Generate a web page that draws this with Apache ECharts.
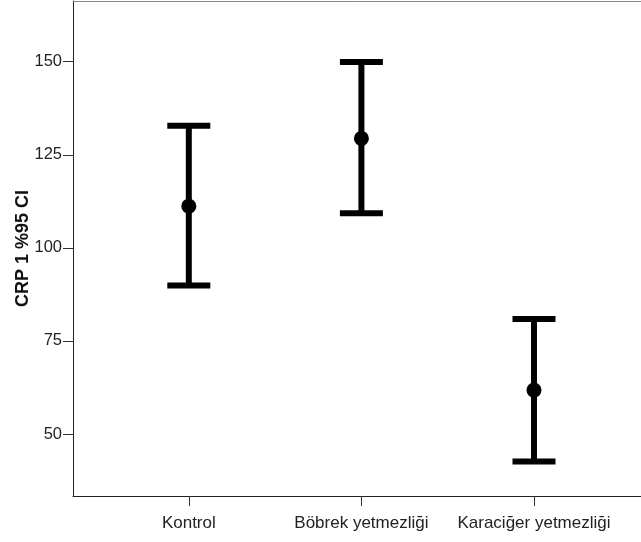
<!DOCTYPE html>
<html>
<head>
<meta charset="utf-8">
<script src="https://cdn.jsdelivr.net/npm/echarts@6/dist/echarts.min.js"></script>
<style>html,body{margin:0;padding:0;background:#fff}#c{width:641px;height:542px}</style>
</head>
<body>
<div id="c"></div>
<script>
const categories = ['Kontrol', 'Böbrek yetmezliği', 'Karaciğer yetmezliği'];
const means = [111.2, 129.4, 61.8];
const lower = [89.9, 109.3, 42.6];
const upper = [132.8, 149.9, 80.9];
const yTicks = [50, 75, 100, 125, 150];
const xTicks = [0, 1, 2];

const chart = echarts.init(document.getElementById('c'), null, {renderer: 'canvas'});
const data = categories.map((c, i) => [i, means[i], lower[i], upper[i]]);
const font = '"Liberation Sans", Arial, sans-serif';

chart.setOption({
  animation: false,
  backgroundColor: '#fff',
  grid: {left: 73, right: 0, top: 1, bottom: 46, containLabel: false, outerBoundsMode: 'none'},
  xAxis: [{
    type: 'value', min: -0.671, max: 2.62,
    splitLine: {show: false},
    axisLine: {show: true, onZero: false, lineStyle: {color: '#222', width: 1}},
    axisTick: {show: true, customValues: xTicks, length: 10, lineStyle: {color: '#333'}},
    axisLabel: {customValues: xTicks, formatter: v => categories[Math.round(v)] || '', color: '#222', fontSize: 17, fontFamily: font, margin: 19}
  }, {
    type: 'value', min: -0.671, max: 2.62, position: 'top',
    splitLine: {show: false},
    axisLine: {show: true, onZero: false, lineStyle: {color: '#8a8a8a', width: 1}},
    axisTick: {show: false}, axisLabel: {show: false}
  }],
  yAxis: {
    type: 'value', min: 33.35, max: 166.3,
    name: 'CRP 1 %95 CI', nameLocation: 'middle', nameGap: 41, nameMoveOverlap: false,
    nameTextStyle: {fontWeight: 'bold', fontSize: 18, color: '#111', fontFamily: font},
    splitLine: {show: false},
    axisLine: {show: true, onZero: false, lineStyle: {color: '#222', width: 1}},
    axisTick: {show: true, customValues: yTicks, length: 10, lineStyle: {color: '#333'}},
    axisLabel: {customValues: yTicks, color: '#222', fontSize: 16.5, fontFamily: font, margin: 11}
  },
  series: [{
    type: 'custom',
    data: data,
    encode: {x: 0, y: [1, 2, 3]},
    renderItem: function (params, api) {
      const x = api.value(0);
      const pm = api.coord([x, api.value(1)]);
      const pl = api.coord([x, api.value(2)]);
      const pu = api.coord([x, api.value(3)]);
      const hw = 21.5;
      const st = {stroke: '#000', lineWidth: 6};
      return {
        type: 'group',
        children: [
          {type: 'line', shape: {x1: pl[0], y1: pl[1], x2: pu[0], y2: pu[1]}, style: st},
          {type: 'line', shape: {x1: pu[0] - hw, y1: pu[1], x2: pu[0] + hw, y2: pu[1]}, style: st},
          {type: 'line', shape: {x1: pl[0] - hw, y1: pl[1], x2: pl[0] + hw, y2: pl[1]}, style: st},
          {type: 'circle', shape: {cx: pm[0], cy: pm[1], r: 7.5}, style: {fill: '#000'}}
        ]
      };
    }
  }]
});
</script>
</body>
</html>
